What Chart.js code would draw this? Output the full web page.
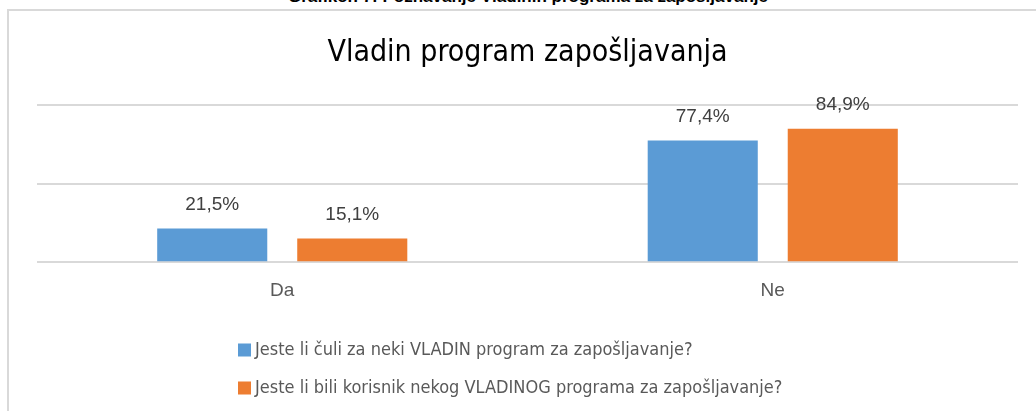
<!DOCTYPE html>
<html>
<head>
<meta charset="utf-8">
<script src="https://cdn.jsdelivr.net/npm/chart.js@4.4.1/dist/chart.umd.min.js"></script>
<style>
    html, body { margin: 0; padding: 0; background: #fff; overflow: hidden; width: 1036px; height: 411px; }
    #caption {
        position: absolute; left: 0; top: -13px; width: 1036px; text-align: center;
        font: bold 17px "Liberation Sans", Arial, sans-serif; color: #000; white-space: nowrap;
        padding-left: 20px; box-sizing: border-box;
    }
    .frame { position: absolute; background: #d9d9d9; }
    #frame-top { left: 7px; top: 9px; width: 1029px; height: 2px; }
    #frame-left { left: 7px; top: 9px; width: 2px; height: 402px; }
    #wrap { position: absolute; left: 0; top: 0; width: 1036px; height: 411px; }
</style>
</head>
<body>
<div id="caption">Grafikon 7: Poznavanje Vladinih programa za zapošljavanje</div>
<div class="frame" id="frame-top"></div>
<div class="frame" id="frame-left"></div>
<div id="wrap"><canvas id="bar-chart"></canvas></div>
<script>
var chartTitle = 'Vladin program zapošljavanja';
var categories = ['Da', 'Ne'];
var seriesNames = [
    'Jeste li čuli za neki VLADIN program za zapošljavanje?',
    'Jeste li bili korisnik nekog VLADINOG programa za zapošljavanje?'
];
var heardOf = [21.5, 77.4];
var wasUser = [15.1, 84.9];
var seriesColors = ['#5B9BD5', '#ED7D31'];

var narrowFont = '"Liberation Sans Narrow", "Arial Narrow", "DejaVu Sans Condensed", sans-serif';

// value labels above each bar, e.g. 21,5%
var valueLabels = {
    id: 'valueLabels',
    afterDatasetsDraw: function (chart) {
        var ctx = chart.ctx;
        ctx.save();
        ctx.font = '19px "Liberation Sans", Arial, sans-serif';
        ctx.fillStyle = '#404040';
        ctx.textAlign = 'center';
        ctx.textBaseline = 'middle';
        chart.data.datasets.forEach(function (ds, i) {
            chart.getDatasetMeta(i).data.forEach(function (bar, j) {
                var txt = ds.data[j].toFixed(1).replace('.', ',') + '%';
                ctx.fillText(txt, bar.x, bar.y - 24);
            });
        });
        ctx.restore();
    }
};

// stacked legend, one row per series
var rowLegend = {
    id: 'rowLegend',
    afterDraw: function (chart) {
        var ctx = chart.ctx;
        var x = 238, y = 350, gap = 38;
        ctx.save();
        ctx.font = '18px ' + narrowFont;
        ctx.textBaseline = 'middle';
        chart.data.datasets.forEach(function (ds, i) {
            ctx.fillStyle = ds.backgroundColor;
            ctx.fillRect(x, y + i * gap - 6.5, 13, 13);
            ctx.fillStyle = '#595959';
            ctx.fillText(ds.label, x + 17, y + i * gap);
        });
        ctx.restore();
    }
};

var handleChart = function () {
    var ctx = document.getElementById('bar-chart').getContext('2d');
    window.myBar = new Chart(ctx, {
        type: 'bar',
        data: {
            labels: categories,
            datasets: [
                { label: seriesNames[0], data: heardOf, backgroundColor: seriesColors[0] },
                { label: seriesNames[1], data: wasUser, backgroundColor: seriesColors[1] }
            ]
        },
        options: {
            responsive: true,
            maintainAspectRatio: false,
            animation: false,
            categoryPercentage: 0.571,
            barPercentage: 0.786,
            layout: { padding: { left: 37, right: 18, top: 0, bottom: 92 } },
            plugins: {
                legend: { display: false },
                tooltip: { enabled: false },
                title: {
                    display: true,
                    text: chartTitle,
                    color: '#000',
                    font: { family: narrowFont, size: 30, weight: 'normal', lineHeight: 1.2 },
                    padding: { top: 35, bottom: 34 }
                }
            },
            scales: {
                x: {
                    grid: { display: false, drawTicks: false },
                    border: { display: false },
                    ticks: {
                        color: '#595959',
                        padding: 17,
                        font: { family: '"Liberation Sans", Arial, sans-serif', size: 19 }
                    }
                },
                y: {
                    min: 0,
                    max: 100,
                    ticks: { display: false, stepSize: 50 },
                    grid: { color: '#d9d9d9', lineWidth: 2, drawTicks: false },
                    border: { display: false }
                }
            }
        },
        plugins: [valueLabels, rowLegend]
    });
};

handleChart();
</script>
</body>
</html>
